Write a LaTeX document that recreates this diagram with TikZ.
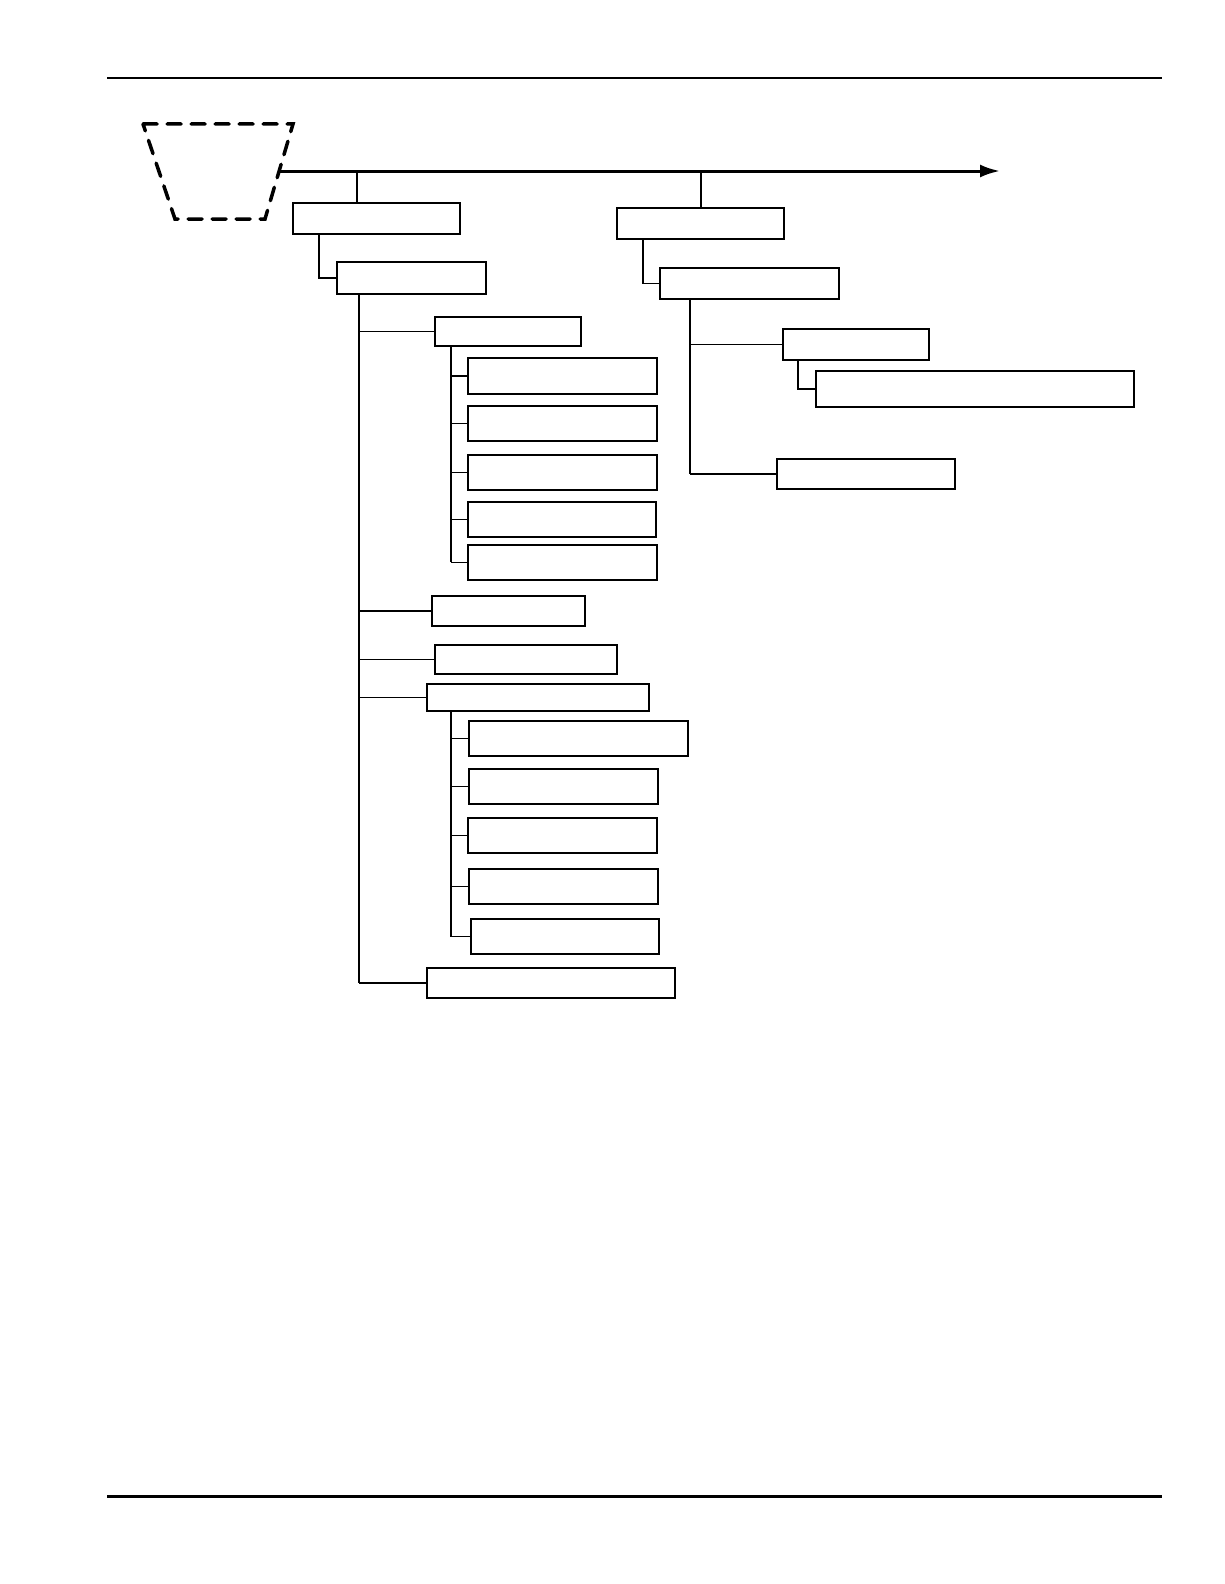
\documentclass[tikz,border=0pt]{standalone}
\usetikzlibrary{arrows.meta}
\begin{document}
\begin{tikzpicture}[x=1pt,y=-1pt,
  bx/.style={draw,line width=2.6pt,fill=white},
  ln/.style={line width=1.3pt}]
\useasboundingbox (0,0) rectangle (1224,1584);
\draw[line width=1.3pt] (107,78) -- (1162,78);
\draw[line width=3pt] (107,1496) -- (1162,1496);
\draw[line width=3.5pt,dash pattern=on 14pt off 10pt,line cap=round] (143,124) -- (293,124) -- (265,219) -- (175,219) -- cycle;
\coordinate (s) at (280,171); \coordinate (e) at (1000,171);
\draw[line width=3pt,-{Latex[length=20pt,width=13pt]}] (s) -- (e);
\def\B#1#2#3#4#5{\node[bx,inner sep=0pt,minimum width={(#4-#2)*1pt},minimum height={(#5-#3)*1pt}] (#1) at ({(#2+#4)/2},{(#3+#5)/2}) {};}
\B{A}{293}{203}{460}{234}\B{B}{617}{208}{784}{239}\B{A1}{337}{262}{486}{294}\B{B1}{660}{268}{839}{299}
\B{C1}{435}{317}{581}{346}\B{Ca}{468}{358}{657}{394}\B{Cb}{468}{406}{657}{441}\B{Cc}{468}{455}{657}{490}\B{Cd}{468}{502}{656}{537}\B{Ce}{468}{545}{657}{580}
\B{C2}{432}{596}{585}{626}\B{C3}{435}{645}{617}{674}\B{C4}{427}{684}{649}{711}
\B{Fa}{469}{721}{688}{756}\B{Fb}{469}{769}{658}{804}\B{Fc}{468}{818}{657}{853}\B{Fd}{469}{869}{658}{904}\B{Fe}{471}{919}{659}{954}
\B{C5}{427}{968}{675}{998}\B{D1}{783}{329}{929}{360}\B{D1a}{816}{371}{1134}{407}\B{D2}{777}{459}{955}{489}
\draw[ln] (357,171) -- (357,203);
\draw[ln] (701,171) -- (701,208);
\draw[ln] (319,234) |- (A1.west);
\draw[ln] (643,239) |- (B1.west);
\draw[ln] (359,294) -- (359,983);
\foreach \t in {C1,C2,C3,C4,C5} \draw[ln] (359,0 |- \t.west) -- (\t.west);
\draw[ln] (451,346) -- (451,562);
\foreach \t in {Ca,Cb,Cc,Cd,Ce} \draw[ln] (451,0 |- \t.west) -- (\t.west);
\draw[ln] (451,711) -- (451,937);
\foreach \t in {Fa,Fb,Fc,Fd,Fe} \draw[ln] (451,0 |- \t.west) -- (\t.west);
\draw[ln] (690,299) -- (690,474);
\foreach \t in {D1,D2} \draw[ln] (690,0 |- \t.west) -- (\t.west);
\draw[ln] (798,360) |- (D1a.west);
\end{tikzpicture}
\end{document}
